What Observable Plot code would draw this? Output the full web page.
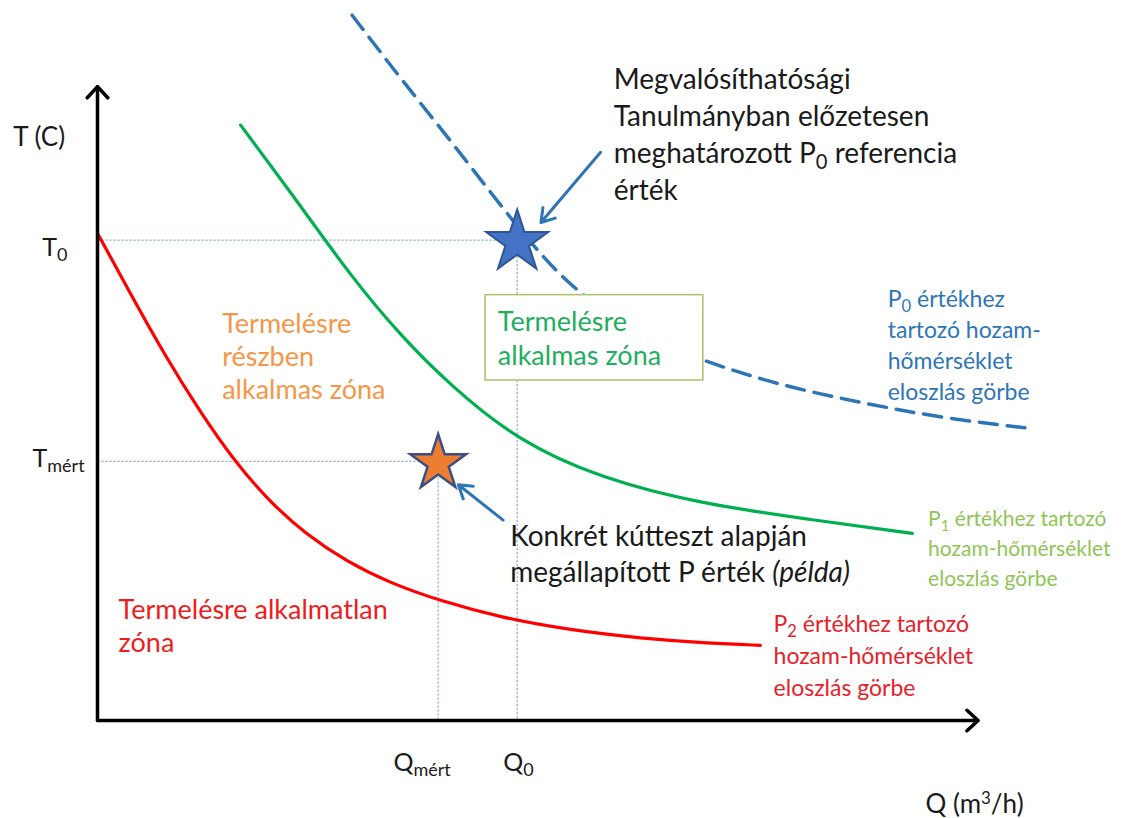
<!DOCTYPE html>
<html>
<head>
<meta charset="utf-8">
<script src="https://cdn.jsdelivr.net/npm/d3@7"></script>
<script src="https://cdn.jsdelivr.net/npm/@observablehq/plot@0.6"></script>
<style>
  html, body { margin: 0; padding: 0; background: white; }
  svg { overflow: visible; }
</style>
</head>
<body>
<div id="chart"></div>
<script>
// ---- Reference values (schematic units) ----
const Q0 = 4.78, Qmert = 3.88;   // flow rates
const T0 = 7.6,  Tmert = 4.1;    // temperatures

// P2 curve (red)
const p2Q = [0, 0.38, 0.77, 1.17, 1.57, 1.97, 2.37, 2.83, 3.34, 3.91, 4.59, 5.39, 6.19, 6.98, 7.55];
const p2T = [7.71, 6.74, 5.77, 4.88, 4.08, 3.45, 2.95, 2.52, 2.17, 1.89, 1.63, 1.43, 1.3, 1.22, 1.19];
// P1 curve (green)
const p1Q = [1.63, 2.31, 2.88, 3.45, 4.02, 4.78, 5.73, 6.87, 8.01, 9.28];
const p1T = [9.42, 8.15, 7.04, 6.09, 5.3, 4.43, 3.83, 3.43, 3.2, 2.96];
// P0 curve (blue dashed)
const p0Q = [2.9, 3.45, 4.02, 4.59, 5.05, 5.5, 6.19, 6.87, 7.78, 8.69, 9.6, 10.63];
const p0T = [11.16, 10.16, 9.18, 8.15, 7.36, 6.73, 6.09, 5.7, 5.3, 5.03, 4.79, 4.62];

// zone labels
const zoneLabels = ["Termelésre\nrészben\nalkalmas zóna", "Termelésre\nalkalmas zóna", "Termelésre alkalmatlan\nzóna"];
const zoneQ = [1.42, 4.56, 0.24];
const zoneT = [5.78, 6.06, 1.51];
// zone box (Q1, Q2, T1, T2)
const boxQ = [4.42, 6.9];
const boxT = [5.38, 6.73];

// curve labels
const curveLabels = [
  "P_{0} értékhez\ntartozó hozam-\nhőmérséklet\neloszlás görbe",
  "P_{1} értékhez tartozó\nhozam-hőmérséklet\neloszlás görbe",
  "P_{2} értékhez tartozó\nhozam-hőmérséklet\neloszlás görbe"
];
const curveLabelQ = [9.0, 9.46, 7.7];
const curveLabelT = [5.97, 2.75, 1.05];

// notes
const noteLabels = [
  "Megvalósíthatósági\nTanulmányban előzetesen\nmeghatározott P_{0} referencia\nérték",
  "Konkrét kútteszt alapján\nmegállapított P érték *{(példa)}"
];
const noteQ = [5.88, 4.7];
const noteT = [9.3, 2.66];
// note arrows: from (Q1, T1) to (Q2, T2)
const arrowQ1 = [5.73, 4.62], arrowT1 = [8.99, 3.17];
const arrowQ2 = [5.05, 4.11], arrowT2 = [7.88, 3.73];

// axis & tick labels
const axisLabels = ["T (C)", "Q (m^{3}/h)"];
const axisLabelQ = [-0.96, 9.43];
const axisLabelT = [9.22, -1.33];
const tickLabels = ["T_{0}", "T_{mért}", "Q_{mért}", "Q_{0}"];
const tickLabelQ = [-0.63, -0.74, 3.37, 4.62];
const tickLabelT = [7.47, 4.14, -0.67, -0.67];

// ---- build tables ----
const toRows = (qs, ts) => qs.map((q, i) => ({Q: q, T: ts[i]}));
const p2 = toRows(p2Q, p2T), p1 = toRows(p1Q, p1T), p0 = toRows(p0Q, p0T);
const idx = arr => arr.map((_, i) => i);

const blue = "#2e75b6";
const refColor = "#8ea9cf";
const txt = (i, labels, qs, ts, o) => Plot.text([0], {x: () => qs[i], y: () => ts[i], text: () => labels[i], textAnchor: "start", ...o});

const chart = Plot.plot({
  width: 1146,
  height: 818,
  marginLeft: 97,
  marginRight: 171,
  marginTop: 88,
  marginBottom: 98,
  x: {domain: [0, 10], axis: null},
  y: {domain: [0, 10], axis: null},
  style: {fontFamily: "Lato, 'Open Sans', sans-serif", background: "white", overflow: "visible"},
  marks: [
    // reference dotted lines
    Plot.link([{a: 0, b: Q0, t: T0}, {a: 0, b: Qmert, t: Tmert}], {x1: "a", x2: "b", y1: "t", y2: "t", stroke: refColor, strokeWidth: 1.3, strokeDasharray: "2,2"}),
    Plot.link([{q: Q0, t: T0}, {q: Qmert, t: Tmert}], {x1: "q", x2: "q", y1: "t", y2: () => 0, stroke: refColor, strokeWidth: 1.3, strokeDasharray: "2,2"}),
    // curves
    Plot.line(p0, {x: "Q", y: "T", curve: "basis", stroke: blue, strokeWidth: 3.5, strokeDasharray: "18,10"}),
    Plot.line(p1, {x: "Q", y: "T", curve: "basis", stroke: "#00b050", strokeWidth: 3.2}),
    Plot.line(p2, {x: "Q", y: "T", curve: "basis", stroke: "#ff0000", strokeWidth: 3.2}),
    // axes
    Plot.arrow([{x1: 0, y1: 0, x2: 0, y2: 10.03}, {x1: 0, y1: 0, x2: 10.03, y2: 0}], {x1: "x1", y1: "y1", x2: "x2", y2: "y2", stroke: "black", strokeWidth: 3.5, headLength: 6.5, headAngle: 85}),
    // zone box
    Plot.rect([{}], {x1: () => boxQ[0], x2: () => boxQ[1], y1: () => boxT[0], y2: () => boxT[1], fill: "white", stroke: "#adbf6a", strokeWidth: 1.5}),
    // note arrows
    Plot.arrow(idx(arrowQ1), {x1: i => arrowQ1[i], y1: i => arrowT1[i], x2: i => arrowQ2[i], y2: i => arrowT2[i], stroke: blue, strokeWidth: 3, headLength: 7.5, headAngle: 65}),
    // stars
    Plot.dot([{q: Q0, t: T0}], {x: "q", y: "t", dy: 2, symbol: "star", r: 19.5, fill: "#4472c4", stroke: "#2f5597", strokeWidth: 2}),
    Plot.dot([{q: Qmert, t: Tmert}], {x: "q", y: "t", dy: 2, symbol: "star", r: 17.5, fill: "#ed7d31", stroke: "#3b4f82", strokeWidth: 2.5}),
    // zone labels
    txt(0, zoneLabels, zoneQ, zoneT, {fontSize: 27, lineHeight: 1.22, fill: "#f79646"}),
    txt(1, zoneLabels, zoneQ, zoneT, {fontSize: 27, lineHeight: 1.26, fill: "#1fae5e"}),
    txt(2, zoneLabels, zoneQ, zoneT, {fontSize: 27, lineHeight: 1.22, fill: "#ee1c1c"}),
    // curve labels
    txt(0, curveLabels, curveLabelQ, curveLabelT, {fontSize: 23, lineHeight: 1.35, fill: "#2e75b6"}),
    txt(1, curveLabels, curveLabelQ, curveLabelT, {fontSize: 21, lineHeight: 1.43, fill: "#8fc556"}),
    txt(2, curveLabels, curveLabelQ, curveLabelT, {fontSize: 23, lineHeight: 1.39, fill: "#e8202a"}),
    // notes
    txt(0, noteLabels, noteQ, noteT, {fontSize: 28, lineHeight: 1.32, fill: "#1a1a1a"}),
    txt(1, noteLabels, noteQ, noteT, {fontSize: 28, lineHeight: 1.29, fill: "#1a1a1a"}),
    // axis labels
    Plot.text(idx(axisLabels), {x: i => axisLabelQ[i], y: i => axisLabelT[i], text: i => axisLabels[i], textAnchor: "start", fontSize: 26, fill: "#1a1a1a"}),
    Plot.text(idx(tickLabels), {x: i => tickLabelQ[i], y: i => tickLabelT[i], text: i => tickLabels[i], textAnchor: "start", fontSize: 25, fill: "#1a1a1a"})
  ]
});

// markup: _{sub}, ^{sup}, *{italic}
function applyMarkup(root) {
  const walker = document.createTreeWalker(root, NodeFilter.SHOW_TEXT);
  const nodes = [];
  while (walker.nextNode()) if (/[_^*]\{/.test(walker.currentNode.data)) nodes.push(walker.currentNode);
  const ns = "http://www.w3.org/2000/svg";
  for (const node of nodes) {
    const frag = document.createDocumentFragment();
    const re = /([_^*])\{([^}]*)\}/g;
    let last = 0, m;
    const s = node.data;
    while ((m = re.exec(s))) {
      if (m.index > last) frag.appendChild(document.createTextNode(s.slice(last, m.index)));
      const t = document.createElementNS(ns, "tspan");
      t.textContent = m[2];
      if (m[1] === "_") { t.setAttribute("font-size", "0.72em"); t.setAttribute("baseline-shift", "-0.3em"); }
      else if (m[1] === "^") { t.setAttribute("font-size", "0.65em"); t.setAttribute("baseline-shift", "0.55em"); }
      else { t.setAttribute("font-style", "italic"); }
      frag.appendChild(t);
      last = re.lastIndex;
    }
    if (last < s.length) frag.appendChild(document.createTextNode(s.slice(last)));
    node.parentNode.replaceChild(frag, node);
  }
}
applyMarkup(chart);
document.getElementById("chart").appendChild(chart);
</script>
</body>
</html>
